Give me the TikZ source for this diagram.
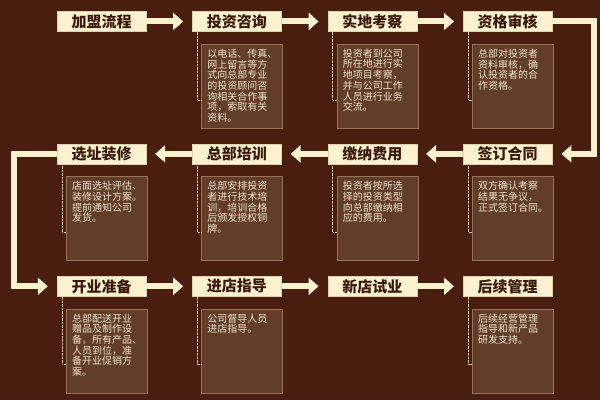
\documentclass[tikz,border=0pt]{standalone}
\usepackage{fontspec}
\usepackage{tikz}
\usetikzlibrary{arrows.meta, positioning, calc}
\usepackage{xcolor}
\newfontfamily\cjk{Noto Sans CJK SC}
\definecolor{bgbrown}{RGB}{73,30,14}
\definecolor{cream}{RGB}{253,242,208}
\definecolor{titlebrown}{RGB}{58,24,10}
\definecolor{descfill}{RGB}{98,62,42}
\definecolor{descline}{RGB}{150,115,90}
\definecolor{desctext}{RGB}{240,228,205}

\begin{document}
\begin{tikzpicture}[
        x=1pt, y=1pt,
        node distance=46pt,
        stepbox/.style={rectangle, draw=cream!85!titlebrown, fill=cream, thin, minimum width=89pt, minimum height=20pt, inner sep=0pt, text=titlebrown, font=\cjk\bfseries\fontsize{15}{15}\selectfont},
        descbox/.style={rectangle, draw=descline, fill=descfill, thin, anchor=north west, inner xsep=6pt, inner ysep=5pt, text=desctext, font=\cjk\fontsize{10}{10.7}\selectfont,
            execute at begin node={\begin{minipage}[t][74pt][t]{69pt}},
            execute at end node={\end{minipage}}},
        arrow/.style={-{Triangle[length=10pt, width=17pt]}, line width=6pt, cream, shorten >=9pt},
        dotline/.style={densely dotted, cream!80!bgbrown, thin}
    ]
        \fill[bgbrown] (0,0) rectangle (600,400);
        \useasboundingbox (0,0) rectangle (600,400);

        % Row 1
        \node[stepbox] (t1) at (101.5,378.5) {加盟流程};
        \node[stepbox, right=of t1] (t2) {投资咨询};
        \node[stepbox, right=of t2] (t3) {实地考察};
        \node[stepbox, right=of t3] (t4) {资格审核};

        % Row 2
        \node[stepbox, below=112pt of t4] (t5) {签订合同};
        \node[stepbox, left=of t5] (t6) {缴纳费用};
        \node[stepbox, left=of t6] (t7) {总部培训};
        \node[stepbox, left=of t7] (t8) {选址装修};

        % Row 3
        \node[stepbox, below=112pt of t8] (t9) {开业准备};
        \node[stepbox, right=of t9] (t10) {进店指导};
        \node[stepbox, right=of t10] (t11) {新店试业};
        \node[stepbox, right=of t11] (t12) {后续管理};

        % Arrows
        \draw[arrow] (t1) -- (t2);
        \draw[arrow] (t2) -- (t3);
        \draw[arrow] (t3) -- (t4);
        \draw[arrow] (t4.east) -- ([xshift=41.5pt]t4.east) |- (t5);
        \draw[arrow] (t5) -- (t6);
        \draw[arrow] (t6) -- (t7);
        \draw[arrow] (t7) -- (t8);
        \draw[arrow] (t8.west) -- ([xshift=-42.5pt]t8.west) |- (t9);
        \draw[arrow] (t9) -- (t10);
        \draw[arrow] (t10) -- (t11);
        \draw[arrow] (t11) -- (t12);

        % Descriptions
        \node[descbox] (d2) at ([xshift=9pt, yshift=-12pt]t2.south west) {以电话、传真、\\网上留言等方\\式向总部专业\\的投资顾问咨\\询相关合作事\\项，索取有关\\资料。};
        \node[descbox] (d3) at ([xshift=9pt, yshift=-12pt]t3.south west) {投资者到公司\\所在地进行实\\地项目考察，\\并与公司工作\\人员进行业务\\交流。};
        \node[descbox] (d4) at ([xshift=9pt, yshift=-12pt]t4.south west) {总部对投资者\\资料审核，确\\认投资者的合\\作资格。};
        \node[descbox] (d5) at ([xshift=9pt, yshift=-12pt]t5.south west) {双方确认考察\\结果无争议，\\正式签订合同。};
        \node[descbox] (d6) at ([xshift=9pt, yshift=-12pt]t6.south west) {投资者按所选\\择的投资类型\\向总部缴纳相\\应的费用。};
        \node[descbox] (d7) at ([xshift=9pt, yshift=-12pt]t7.south west) {总部安排投资\\者进行技术培\\训，培训合格\\后颁发授权铜\\牌。};
        \node[descbox] (d8) at ([xshift=9pt, yshift=-12pt]t8.south west) {店面选址评估、\\装修设计方案。\\提前通知公司\\发货。};
        \node[descbox] (d9) at ([xshift=9pt, yshift=-12pt]t9.south west) {总部配送开业\\赠品及制作设\\备，所有产品、\\人员到位，准\\备开业促销方\\案。};
        \node[descbox] (d10) at ([xshift=9pt, yshift=-12pt]t10.south west) {公司督导人员\\进店指导。};
        \node[descbox] (d12) at ([xshift=9pt, yshift=-12pt]t12.south west) {后续经营管理\\指导和新产品\\研发支持。};

        % Dotted leaders
        \foreach \n in {2,3,4,5,6,7,8,9,10,12}
            \draw[dotline] ([xshift=5pt]t\n.south west) |- ([yshift=-56pt]d\n.north west);
    \end{tikzpicture}
\end{document}
